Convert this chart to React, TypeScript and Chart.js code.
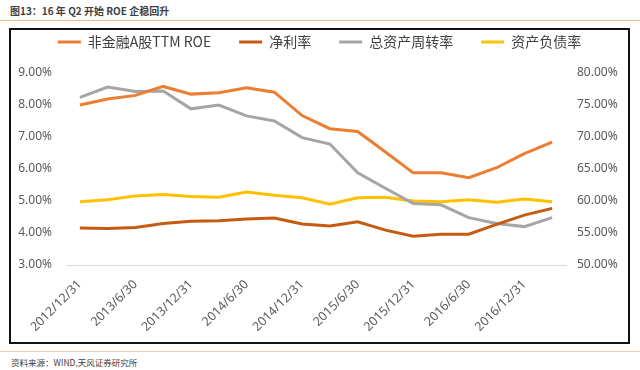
import React, { useEffect, useRef } from 'react';
import { Chart, registerables } from 'chart.js';

Chart.register(...registerables);

const categories = [
  '2012/12/31', '2013/3/31', '2013/6/30', '2013/9/30', '2013/12/31', '2014/3/31',
  '2014/6/30', '2014/9/30', '2014/12/31', '2015/3/31', '2015/6/30', '2015/9/30',
  '2015/12/31', '2016/3/31', '2016/6/30', '2016/9/30', '2016/12/31', '2017/3/31',
];
const roe = [8.0, 8.19, 8.3, 8.58, 8.34, 8.38, 8.54, 8.4, 7.67, 7.26, 7.17, 6.53, 5.88, 5.88, 5.73, 6.04, 6.48, 6.84];
const netMargin = [4.16, 4.14, 4.17, 4.3, 4.37, 4.38, 4.44, 4.47, 4.28, 4.22, 4.35, 4.09, 3.9, 3.96, 3.96, 4.27, 4.56, 4.77];
const turnover = [76.2, 77.8, 77.1, 77.2, 74.4, 75.0, 73.3, 72.5, 69.9, 68.9, 64.4, 62.0, 59.6, 59.4, 57.4, 56.5, 56.0, 57.4];
const debtRatio = [59.9, 60.2, 60.8, 61.0, 60.7, 60.6, 61.4, 60.9, 60.5, 59.5, 60.5, 60.6, 60.0, 59.9, 60.2, 59.8, 60.3, 59.9];

const seriesNames = ['非金融A股TTM ROE', '净利率', '总资产周转率', '资产负债率'];
const seriesColors = ['#ED7D31', '#C55A11', '#A5A5A5', '#FFC000'];

const TICK_COLOR = '#595959';
const LEGEND_H = 66;

export default function App() {
  const ref = useRef<HTMLCanvasElement | null>(null);

  useEffect(() => {
    if (!ref.current) return;
    const legendHeightPlugin = {
      id: 'legendHeight',
      beforeLayout(chart: any) {
        const lg = chart.legend;
        if (lg && !lg.__patched) {
          const orig = lg.fit;
          lg.fit = function () {
            orig.call(this);
            this.height = LEGEND_H;
          };
          lg.__patched = true;
        }
      },
    };
    const mk = (i: number, data: number[], axis: string) => ({
      label: seriesNames[i],
      data,
      borderColor: seriesColors[i],
      backgroundColor: seriesColors[i],
      borderWidth: 3,
      pointRadius: 0,
      tension: 0,
      yAxisID: axis,
    });
    const chart = new Chart(ref.current, {
      type: 'line',
      data: {
        labels: categories,
        datasets: [
          mk(0, roe, 'yL'),
          mk(1, netMargin, 'yL'),
          mk(2, turnover, 'yR'),
          mk(3, debtRatio, 'yR'),
        ],
      },
      plugins: [legendHeightPlugin],
      options: {
        responsive: false,
        animation: false,
        devicePixelRatio: 1,
        layout: { padding: { top: -23, left: 0, right: 0, bottom: 0 } },
        plugins: {
          tooltip: { enabled: false },
          legend: {
            position: 'top',
            labels: {
              usePointStyle: true,
              pointStyle: 'line',
              pointStyleWidth: 23,
              padding: 28,
              color: '#404040',
              font: { family: '"Noto Sans CJK SC", "Noto Sans", sans-serif', size: 14 },
            },
          },
        },
        scales: {
          x: {
            type: 'category',
            offset: true,
            grid: { display: false, drawTicks: false },
            border: { display: true, color: '#D9D9D9', width: 1 },
            ticks: {
              autoSkip: false,
              maxRotation: 45,
              minRotation: 45,
              padding: 12,
              color: TICK_COLOR,
              font: { family: '"Noto Sans", sans-serif', size: 12.5 },
              callback: (_v: any, idx: number) => (idx % 2 === 0 ? categories[idx] : ''),
            },
            afterFit: (s: any) => { s.height = 77; },
          },
          yL: {
            type: 'linear',
            position: 'left',
            min: 3,
            max: 9,
            grid: { display: false, drawTicks: false },
            border: { display: false },
            ticks: {
              stepSize: 1,
              padding: 14,
              color: TICK_COLOR,
              font: { family: '"Noto Sans", sans-serif', size: 12 },
              callback: (v: any) => Number(v).toFixed(2) + '%',
            },
            afterFit: (s: any) => { s.width = 55; },
          },
          yR: {
            type: 'linear',
            position: 'right',
            min: 50,
            max: 80,
            grid: { display: false, drawTicks: false },
            border: { display: false },
            ticks: {
              stepSize: 5,
              padding: 11,
              color: TICK_COLOR,
              font: { family: '"Noto Sans", sans-serif', size: 12 },
              callback: (v: any) => Number(v).toFixed(2) + '%',
            },
            afterFit: (s: any) => { s.width = 62; },
          },
        },
      },
    } as any);
    return () => chart.destroy();
  }, []);

  return (
    <div style={{ position: 'absolute', left: 0, top: 0, width: 640, height: 370, background: '#fff', overflow: 'hidden' }}>
      <div style={{ position: 'absolute', left: 10, top: 4, fontFamily: '"Noto Sans CJK SC", sans-serif', fontSize: 10, fontWeight: 700, color: '#404040', whiteSpace: 'nowrap', lineHeight: '14px' }}>
        图13：16 年 Q2 开始 ROE 企稳回升
      </div>
      <div style={{ position: 'absolute', left: 0, top: 20, width: 640, height: 1, background: '#F4B183' }} />
      <div style={{ position: 'absolute', left: 9, top: 28, width: 621, height: 316, border: '2px solid #111', boxSizing: 'border-box' }}>
        <canvas ref={ref} width={617} height={312} style={{ display: 'block', width: 617, height: 312 }} />
      </div>
      <div style={{ position: 'absolute', left: 0, top: 351, width: 640, height: 1, background: '#F8CBAD' }} />
      <div style={{ position: 'absolute', left: 11, top: 355, fontFamily: '"Noto Sans CJK SC", sans-serif', fontSize: 8.5, color: '#404040', whiteSpace: 'nowrap', lineHeight: '14px' }}>
        资料来源：WIND,天风证券研究所
      </div>
    </div>
  );
}
